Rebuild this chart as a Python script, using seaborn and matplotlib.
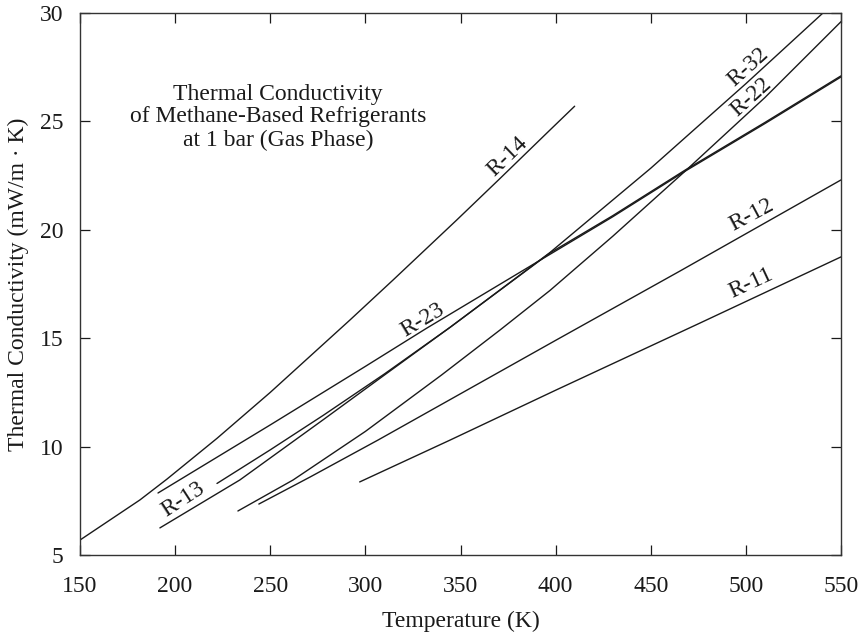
import matplotlib
matplotlib.use("Agg")
import matplotlib.pyplot as plt
import seaborn as sns
import pandas as pd

# ---- data (Temperature K, conductivity mW/m.K) ----
r14_T = [150, 181.5, 195.7, 222, 250, 291.9, 314.5, 348, 370.8, 397, 410]
r14_k = [5.69, 7.54, 8.5, 10.38, 12.5, 15.84, 17.68, 20.45, 22.37, 24.6, 25.7]

r23_T = [191, 250, 300, 332, 390, 430, 468, 510, 550]
r23_k = [7.86, 11.0, 13.7, 15.45, 18.5, 20.6, 22.7, 24.9, 27.05]

r13_T = [192, 234, 278, 310, 344.5, 397, 430, 468, 510, 550]
r13_k = [6.25, 8.46, 11.25, 13.3, 15.5, 18.93, 20.65, 22.75, 24.95, 27.1]

r32_T = [222, 250, 278, 310, 344.5, 397, 450, 500, 540.5]
r32_k = [8.3, 9.85, 11.45, 13.35, 15.5, 18.95, 22.84, 26.74, 30.0]

r22_T = [233, 262, 300, 340, 370.8, 397, 430, 468, 510, 550]
r22_k = [7.03, 8.46, 10.7, 13.3, 15.38, 17.2, 19.7, 22.7, 26.1, 29.6]

r12_T = [244, 271, 306.6, 400, 465.4, 550]
r12_k = [7.35, 8.6, 10.3, 14.9, 18.1, 22.3]

r11_T = [297, 344.5, 400, 475.9, 550]
r11_k = [8.37, 10.3, 12.6, 15.7, 18.75]

series_names = ["R-14", "R-23", "R-13", "R-32", "R-22", "R-12", "R-11"]
label_T = [375, 330.3, 204, 501, 503, 503, 503]
label_k = [23.36, 15.84, 7.54, 27.5, 26.1, 20.7, 17.55]
label_rot = [44, 31, 33, 42, 42, 28, 25]

x_ticks = [150, 200, 250, 300, 350, 400, 450, 500, 550]
y_ticks = [5, 10, 15, 20, 25, 30]

title_lines = "Thermal Conductivity\nof Methane-Based Refrigerants\nat 1 bar (Gas Phase)"

# ---- build long table ----
all_T = [r14_T, r23_T, r13_T, r32_T, r22_T, r12_T, r11_T]
all_k = [r14_k, r23_k, r13_k, r32_k, r22_k, r12_k, r11_k]
frames = []
for name, T, k in zip(series_names, all_T, all_k):
    frames.append(pd.DataFrame({"T": T, "k": k, "fluid": name}))
df = pd.concat(frames, ignore_index=True)

sns.set_style("ticks")
plt.rcParams["font.family"] = ["Liberation Serif", "DejaVu Serif"]

FS = 17
fig = plt.figure(figsize=(8.67, 6.4), dpi=100)
ax = fig.add_axes([80 / 867, 85 / 640, 761 / 867, 542 / 640])

sns.lineplot(data=df, x="T", y="k", units="fluid", estimator=None,
             color="#1a1a1a", linewidth=1.0, sort=False, ax=ax, legend=False)

ax.set_xlim(150, 550)
ax.set_ylim(5, 30)
ax.set_xticks(x_ticks)
ax.set_yticks(y_ticks)
ax.tick_params(direction="in", length=7, width=0.9, top=True, right=True,
               labelsize=FS, colors="#1a1a1a")
ax.tick_params(axis="x", pad=15)
ax.tick_params(axis="y", pad=12)
for s in ax.spines.values():
    s.set_linewidth(1.0)
    s.set_color("#333333")

ax.set_xlabel("Temperature (K)", fontsize=FS, labelpad=10, color="#1a1a1a")
ax.set_ylabel("Thermal Conductivity (mW/m \u00b7 K)", fontsize=FS, labelpad=8,
              color="#1a1a1a")

for name, tx, ty, rot in zip(series_names, label_T, label_k, label_rot):
    ax.text(tx, ty, name, rotation=rot, ha="center", va="center",
            fontsize=FS, color="#1a1a1a", rotation_mode="anchor")

ax.text(254, 25.2, title_lines, ha="center", va="center", fontsize=FS,
        color="#1a1a1a", linespacing=1.12)

fig.savefig("out.png", dpi=100)
